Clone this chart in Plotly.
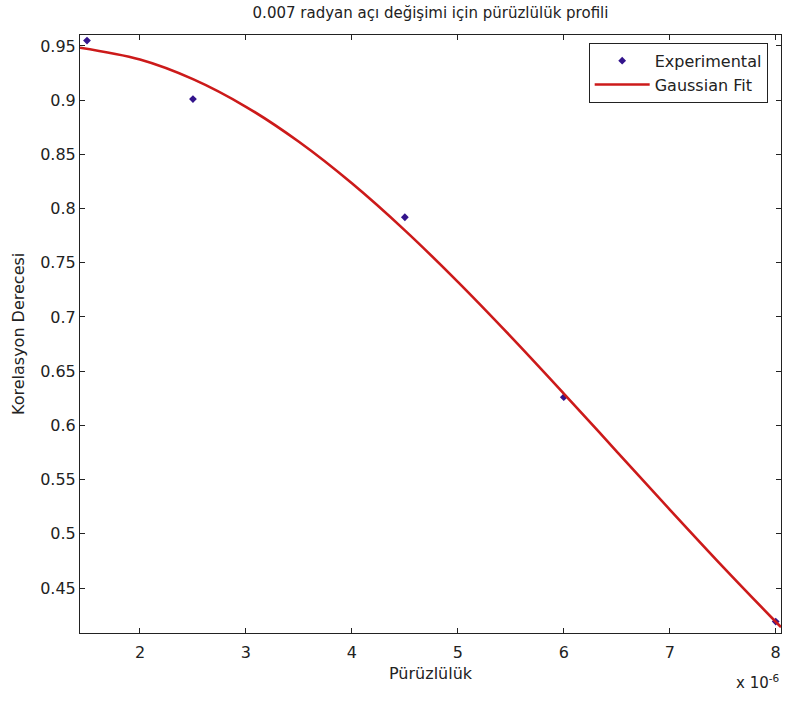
import plotly.graph_objects as go

# Experimental data (x in units of 1e-6)
exp_x = [1.5, 2.5, 4.5, 6.0, 8.0]
exp_y = [0.955, 0.901, 0.792, 0.626, 0.419]

# Gaussian fit curve
fit_x = [1.434, 2.0, 2.5, 3.0, 3.5, 4.0, 4.5, 5.0, 5.5, 6.0, 6.5, 7.0, 7.5, 8.0, 8.05]
fit_y = [0.9484, 0.9375, 0.9194, 0.8939, 0.8616, 0.8233, 0.7799, 0.7324, 0.6819,
         0.6294, 0.5759, 0.5224, 0.4698, 0.4189, 0.4139]

x_ticks = [2, 3, 4, 5, 6, 7, 8]
x_ticktext = ["2", "3", "4", "5", "6", "7", "8"]
y_ticks = [0.45, 0.5, 0.55, 0.6, 0.65, 0.7, 0.75, 0.8, 0.85, 0.9, 0.95]
y_ticktext = ["0.45", "0.5", "0.55", "0.6", "0.65", "0.7", "0.75", "0.8", "0.85", "0.9", "0.95"]

FONT = "DejaVu Sans"
TXT = "#222222"

fig = go.Figure()
fig.add_trace(go.Scatter(
    x=exp_x, y=exp_y, mode="markers", name="Experimental",
    marker=dict(symbol="diamond", size=6, color="#33148c"),
    cliponaxis=False,
))
fig.add_trace(go.Scatter(
    x=fit_x, y=fit_y, mode="lines", name="Gaussian Fit",
    line=dict(color="#cc1a1a", width=2.6, shape="spline"),
))

axis_common = dict(
    showline=True, linecolor="#222222", linewidth=1, mirror="ticks",
    ticks="inside", ticklen=5, tickcolor="#222222", tickwidth=1,
    showgrid=False, zeroline=False, automargin=False,
    tickfont=dict(family=FONT, size=16, color=TXT),
)

fig.update_layout(
    width=785, height=702,
    margin=dict(l=80, r=4, t=35, b=69),
    paper_bgcolor="white", plot_bgcolor="white",
    title=dict(
        text="0.007 radyan açı değişimi için pürüzlülük profili",
        font=dict(family=FONT, size=15, color=TXT),
        x=0.5, xref="paper", xanchor="center",
        y=1 - 13 / 702, yref="container", yanchor="middle",
    ),
    xaxis=dict(range=[1.434, 8.05], tickvals=x_ticks, ticktext=x_ticktext,
               ticklabelstandoff=5, **axis_common),
    yaxis=dict(range=[0.4085, 0.9601], tickvals=y_ticks, ticktext=y_ticktext, **axis_common),
    legend=dict(
        x=0.981, xanchor="right", y=0.987, yanchor="top",
        bgcolor="white", bordercolor="#222222", borderwidth=1,
        font=dict(family=FONT, size=16, color=TXT),
        itemwidth=55, tracegroupgap=0,
    ),
    showlegend=True,
)

fig.add_annotation(
    text="Pürüzlülük", xref="paper", yref="paper",
    x=0.5, y=-(673 - 633) / 598, xanchor="center", yanchor="middle",
    showarrow=False, font=dict(family=FONT, size=16, color=TXT),
)
fig.add_annotation(
    text="Korelasyon Derecesi", xref="paper", yref="paper",
    x=(18 - 80) / 701, y=0.5, xanchor="center", yanchor="middle", textangle=-90,
    showarrow=False, font=dict(family=FONT, size=16, color=TXT),
)
fig.add_annotation(
    text="x 10<sup>-6</sup>", xref="paper", yref="paper",
    x=(782 - 80) / 701, y=-(682 - 633) / 598, xanchor="right", yanchor="middle",
    showarrow=False, font=dict(family=FONT, size=15, color=TXT),
)

fig.write_html(
    "out.html",
    config={"displayModeBar": False},
    post_script="document.body.style.margin='0';document.body.style.overflow='hidden';",
)
